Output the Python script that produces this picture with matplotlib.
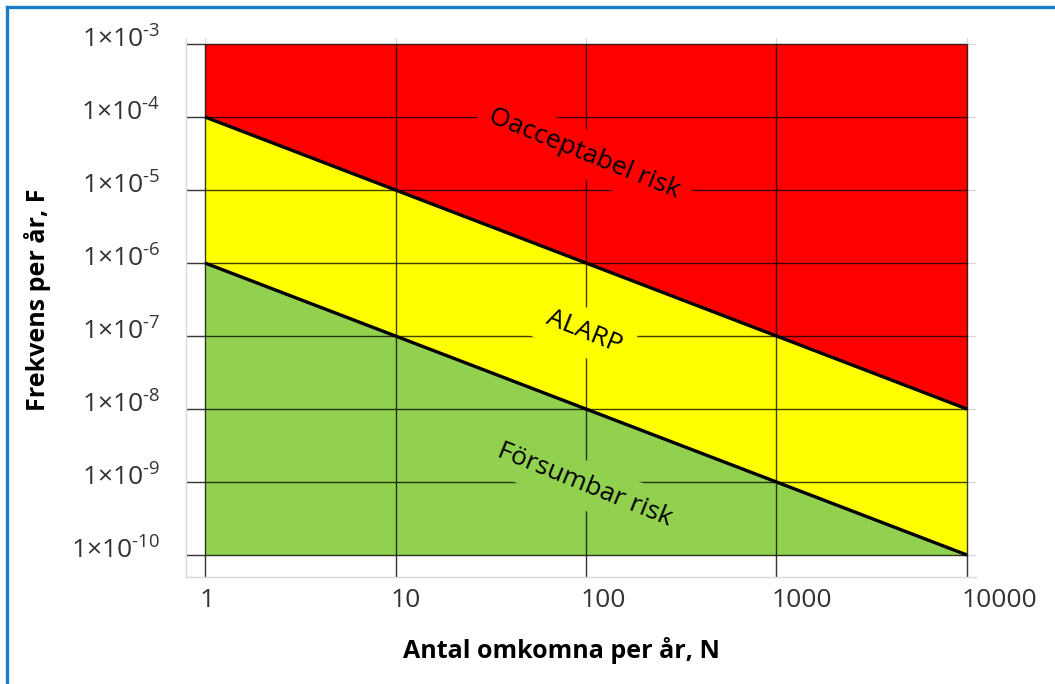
import numpy as np
import matplotlib.pyplot as plt
import matplotlib.transforms as mtransforms
from matplotlib.lines import Line2D

plt.rcParams['font.family'] = ['Open Sans', 'DejaVu Sans']
plt.rcParams['mathtext.fontset'] = 'custom'
plt.rcParams['mathtext.rm'] = 'Open Sans'
plt.rcParams['mathtext.it'] = 'Open Sans'

# risk criteria (F-N curve)
antal = [1, 10, 100, 1000, 10000]
ovre_grans = [1e-4, 1e-5, 1e-6, 1e-7, 1e-8]
undre_grans = [1e-6, 1e-7, 1e-8, 1e-9, 1e-10]
y_ticks = [1e-3, 1e-4, 1e-5, 1e-6, 1e-7, 1e-8, 1e-9, 1e-10]
y_labels = [r'$1{\times}10^{\text{-}%d}$' % e for e in range(3, 11)]
x_labels = ['1', '10', '100', '1000', '10000']

W, H = 1055, 684
fig = plt.figure(figsize=(W / 100, H / 100), dpi=100)
left, right, top, bottom = 186, 976, 38, 577
ax = fig.add_axes([left / W, 1 - bottom / H, (right - left) / W, (bottom - top) / H])
ax.set_xscale('log')
ax.set_yscale('log')

dec_x = (967 - 205) / 4
dec_y = (555 - 44) / 7
xmin, xmax = 10 ** (-(205 - left) / dec_x), 10 ** (4 + (right - 967) / dec_x)
ymax, ymin = 10 ** (-3 + (44 - top) / dec_y), 10 ** (-10 - (bottom - 555) / dec_y)
ax.set_xlim(xmin, xmax)
ax.set_ylim(ymin, ymax)

# light grid behind everything
for v in antal:
    ax.axvline(v, color='#d9d9d9', lw=1, zorder=0)
for v in y_ticks:
    ax.axhline(v, color='#d9d9d9', lw=1, zorder=0)

ax.fill_between(antal, ovre_grans, 1e-3, color='#ff0000', lw=0, zorder=1)
ax.fill_between(antal, undre_grans, ovre_grans, color='#ffff00', lw=0, zorder=1)
ax.fill_between(antal, 1e-10, undre_grans, color='#92d050', lw=0, zorder=1)

# dark grid on the coloured area
ax.hlines(y_ticks, xmin, 1e4, color='black', lw=1, alpha=0.75, zorder=2)
ax.vlines(antal, ymin, 1e-3, color='black', lw=1, alpha=0.75, zorder=2)

ax.plot(antal, ovre_grans, color='black', lw=2.4, zorder=3, solid_capstyle='butt')
ax.plot(antal, undre_grans, color='black', lw=2.4, zorder=3, solid_capstyle='butt')

txt = dict(fontsize=19, rotation=-22, ha='center', va='center', zorder=5,
           rotation_mode='anchor')
ax.text(98, 10 ** -4.507, 'Oacceptabel risk',
        bbox=dict(facecolor='#ff0000', edgecolor='none', pad=8), **txt)
ax.text(98, 10 ** -6.945, 'ALARP',
        bbox=dict(facecolor='#ffff00', edgecolor='none', pad=8), **txt)
ax.text(98, 10 ** -9.04, 'Försumbar risk',
        bbox=dict(facecolor='#92d050', edgecolor='none', pad=8), **txt)

# tick labels
ax.set_xticks([])
ax.set_yticks([])
ax.minorticks_off()
px = lambda dx, dy: mtransforms.ScaledTranslation(dx / 100, dy / 100, fig.dpi_scale_trans)
xt = ax.get_xaxis_transform() + px(-5, -11)
for v, lab in zip(antal, x_labels):
    ax.text(v, 0, lab, transform=xt, ha='left', va='top', fontsize=19,
            color='#333333')
yt = ax.get_yaxis_transform() + px(-26, 4)
for v, lab in zip(y_ticks, y_labels):
    ax.text(0, v, lab, transform=yt, ha='right', va='center', fontsize=19,
            color='#333333')

for s in ['top', 'right']:
    ax.spines[s].set_visible(False)
for s in ['left', 'bottom']:
    ax.spines[s].set_color('#d9d9d9')
    ax.spines[s].set_linewidth(1)

fig.text(561 / W, 1 - 650 / H, 'Antal omkomna per år, N', fontsize=18,
         fontweight='bold', ha='center', va='center')
fig.text(38 / W, 1 - 300 / H, 'Frekvens per år, F', fontsize=18,
         fontweight='bold', ha='center', va='center', rotation=90)

# blue frame (top and left)
fig.add_artist(Line2D([7 / W, 1], [1 - 7 / H, 1 - 7 / H], color='#1a7dc8', lw=2.4,
                      transform=fig.transFigure))
fig.add_artist(Line2D([7 / W, 7 / W], [0, 1 - 7 / H], color='#1a7dc8', lw=2.4,
                      transform=fig.transFigure))

fig.savefig('out.png', dpi=100)
